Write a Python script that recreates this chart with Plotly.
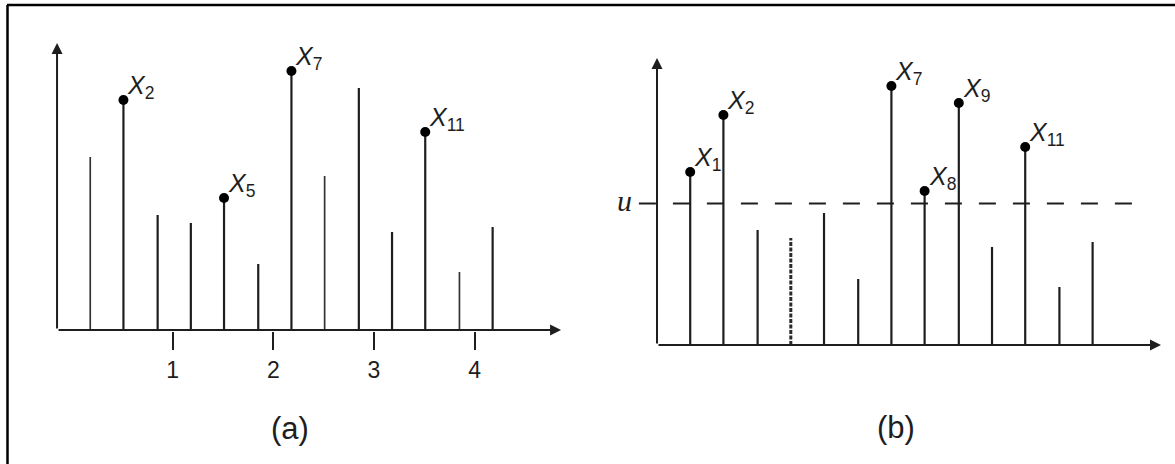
import plotly.graph_objects as go
from plotly.subplots import make_subplots

# same series X1..X13 in both panels
times = [0.18, 0.51, 0.85, 1.18, 1.51, 1.85, 2.18, 2.51, 2.85, 3.18, 3.51, 3.85, 4.18]
values = [1.73, 2.30, 1.15, 1.07, 1.32, 0.66, 2.59, 1.54, 2.42, 0.98, 1.98, 0.58, 1.03]
block_edges = [0, 1, 2, 3, 4]
tick_vals = [1, 2, 3, 4]
tick_labels = ['1', '2', '3', '4']
u = 1.415
faint_a = [0, 7, 11]   # thinner stems in (a)
rough_b = [3]          # ragged stem in (b)

INK = '#1e1e1e'
SANS = 'Liberation Sans, Arial, sans-serif'
SERIF = 'Liberation Serif, Times New Roman, serif'

# block maxima (a) and threshold exceedances (b)
maxima = []
for lo, hi in zip(block_edges[:-1], block_edges[1:]):
    idx = [i for i, t in enumerate(times) if lo <= t < hi]
    maxima.append(max(idx, key=lambda i: values[i]))
exceed = [i for i, v in enumerate(values) if v > u]


def stems(idx):
    xs, ys = [], []
    for i in idx:
        xs += [times[i], times[i], None]
        ys += [0, values[i], None]
    return xs, ys


fig = make_subplots(rows=1, cols=2, horizontal_spacing=0)

# panel (a)
plain = [i for i in range(len(times)) if i not in faint_a]
xs, ys = stems(plain)
fig.add_trace(go.Scatter(x=xs, y=ys, mode='lines', line=dict(color=INK, width=2.2)), 1, 1)
xs, ys = stems(faint_a)
fig.add_trace(go.Scatter(x=xs, y=ys, mode='lines', line=dict(color='#333', width=1.7)), 1, 1)
fig.add_trace(go.Scatter(x=[times[i] for i in maxima], y=[values[i] for i in maxima],
                         mode='markers', marker=dict(color='black', size=10)), 1, 1)

# panel (b)
fig.add_trace(go.Scatter(x=[-0.33, 4.61], y=[u, u], mode='lines',
                         line=dict(color=INK, width=2, dash='17px,17px')), 1, 2)
plain = [i for i in range(len(times)) if i not in rough_b]
xs, ys = stems(plain)
fig.add_trace(go.Scatter(x=xs, y=ys, mode='lines', line=dict(color=INK, width=2.2)), 1, 2)
xs, ys = stems(rough_b)
fig.add_trace(go.Scatter(x=xs, y=ys, mode='lines', line=dict(color='#2a2a2a', width=3, dash='4px,1.5px')), 1, 2)
fig.add_trace(go.Scatter(x=[times[i] for i in exceed], y=[values[i] for i in exceed],
                         mode='markers', marker=dict(color='black', size=10)), 1, 2)

ann = []
for xr, yr, marks in [('x', 'y', maxima), ('x2', 'y2', exceed)]:
    # axes with arrowheads
    ann.append(dict(x=4.86, y=0, ax=-0.15, ay=0, xref=xr, yref=yr, axref=xr, ayref=yr,
                    text='', showarrow=True, arrowhead=2, arrowsize=1.1, arrowwidth=2, arrowcolor=INK))
    ann.append(dict(x=-0.15, y=2.87, ax=-0.15, ay=0, xref=xr, yref=yr, axref=xr, ayref=yr,
                    text='', showarrow=True, arrowhead=2, arrowsize=1.1, arrowwidth=2, arrowcolor=INK))
    for i in marks:
        ann.append(dict(x=times[i], y=values[i], xref=xr, yref=yr, xanchor='left', yanchor='bottom',
                        xshift=2, yshift=-5, showarrow=False,
                        text=f'<i>X</i><sub>{i + 1}</sub>', font=dict(family=SANS, size=25, color=INK)))

ann.append(dict(x=-0.47, y=u, xref='x2', yref='y2', xanchor='center', yanchor='middle', yshift=3,
                showarrow=False, text='<i>u</i>', font=dict(family=SERIF, size=30, color=INK)))
ann.append(dict(x=290 / 1175, y=1 - 428 / 464, xref='paper', yref='paper', xanchor='center',
                yanchor='middle', showarrow=False, text='(a)', font=dict(family=SANS, size=31, color=INK)))
ann.append(dict(x=896 / 1175, y=1 - 427 / 464, xref='paper', yref='paper', xanchor='center',
                yanchor='middle', showarrow=False, text='(b)', font=dict(family=SANS, size=31, color=INK)))

# frame: top and left edges only
shapes = [
    dict(type='line', xref='paper', yref='paper', x0=7 / 1175, x1=1, y0=1 - 5 / 464, y1=1 - 5 / 464,
         line=dict(color='black', width=2.5)),
    dict(type='line', xref='paper', yref='paper', x0=7.5 / 1175, x1=7.5 / 1175, y0=0, y1=1 - 5 / 464,
         line=dict(color='black', width=2.5)),
]

fig.update_layout(
    width=1175, height=464, margin=dict(l=0, r=0, t=0, b=0),
    paper_bgcolor='white', plot_bgcolor='white', showlegend=False,
    annotations=ann, shapes=shapes,
    xaxis=dict(domain=[0, 0.5], range=[-0.717, 5.123], showgrid=False, zeroline=False, showline=False,
               tickvals=tick_vals, ticktext=tick_labels, ticks='outside', ticklen=18, tickwidth=2,
               tickcolor=INK, anchor='free', position=1 - 330.5 / 464, ticklabelstandoff=1,
               tickfont=dict(family=SANS, size=23, color=INK)),
    xaxis2=dict(domain=[0.5, 1], range=[-0.841, 4.999], visible=False),
    yaxis=dict(domain=[0, 1], range=[-1.34, 3.30], visible=False),
    yaxis2=dict(domain=[0, 1], range=[-1.19, 3.45], visible=False),
)

fig.write_html("out.html", config={'displayModeBar': False},
               post_script="document.body.style.margin='0';")
